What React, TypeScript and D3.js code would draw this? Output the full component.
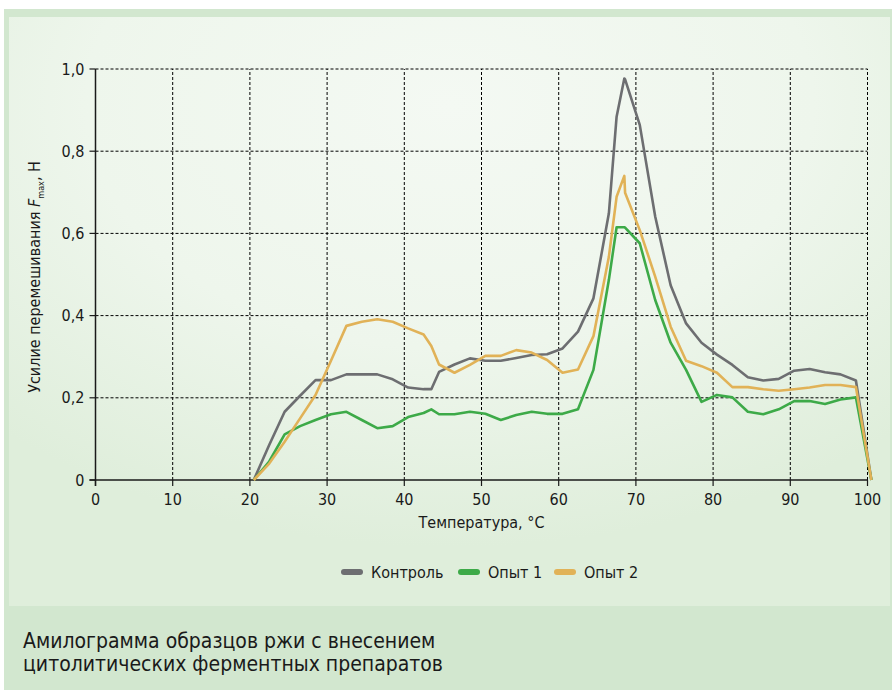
import React from "react";
import * as d3 from "d3";

const temps = [20.5, 22.5, 24.5, 26.5, 28.5, 30.5, 32.5, 34.5, 36.5, 38.5, 40.5, 42.5, 43.5, 44.5, 46.5, 48.5, 50.5, 52.5, 54.5, 56.5, 58.5, 60.5, 62.5, 64.5, 66.5, 67.5, 68.5, 68.6, 70.5, 72.5, 74.5, 76.5, 78.5, 80.5, 82.5, 84.5, 86.5, 88.5, 90.5, 92.5, 94.5, 96.5, 98.5, 100.5];

const control = [0, 0.085, 0.166, 0.205, 0.243, 0.243, 0.257, 0.257, 0.257, 0.245, 0.225, 0.221, 0.221, 0.263, 0.281, 0.296, 0.29, 0.29, 0.297, 0.304, 0.306, 0.32, 0.361, 0.442, 0.649, 0.884, 0.977, 0.975, 0.864, 0.641, 0.474, 0.381, 0.334, 0.305, 0.28, 0.25, 0.242, 0.246, 0.266, 0.27, 0.262, 0.257, 0.242, 0];

const trial1 = [0, 0.045, 0.111, 0.131, 0.146, 0.16, 0.166, 0.146, 0.126, 0.131, 0.153, 0.163, 0.172, 0.16, 0.16, 0.166, 0.161, 0.146, 0.158, 0.166, 0.161, 0.161, 0.172, 0.268, 0.487, 0.615, 0.615, 0.614, 0.576, 0.438, 0.334, 0.268, 0.19, 0.207, 0.201, 0.166, 0.16, 0.172, 0.192, 0.192, 0.185, 0.196, 0.201, 0];

const trial2 = [0, 0.04, 0.093, 0.15, 0.207, 0.29, 0.375, 0.385, 0.391, 0.385, 0.369, 0.354, 0.326, 0.281, 0.261, 0.28, 0.302, 0.302, 0.316, 0.31, 0.292, 0.261, 0.269, 0.35, 0.543, 0.689, 0.74, 0.699, 0.608, 0.495, 0.373, 0.29, 0.277, 0.261, 0.226, 0.226, 0.221, 0.217, 0.221, 0.225, 0.231, 0.231, 0.226, 0];

const seriesNames = ["Контроль", "Опыт 1", "Опыт 2"];
const seriesColors = ["#6d6e71", "#3daa48", "#e1b257"];
const xTicks = [0, 10, 20, 30, 40, 50, 60, 70, 80, 90, 100];
const yTicks = [0, 0.2, 0.4, 0.6, 0.8, 1.0];
const xTitle = "Температура, °C";
const captionLines = ["Амилограмма образцов ржи с внесением", "цитолитических ферментных препаратов"];

const FONT = "'DejaVu Sans Condensed', 'DejaVu Sans', sans-serif";

export default function App() {
  const W = 892, H = 690;
  const x = d3.scaleLinear().domain([0, 100]).range([95.5, 867.5]);
  const y = d3.scaleLinear().domain([0, 1]).range([480, 69]);
  const line = d3.line<[number, number]>().x(d => x(d[0])).y(d => y(d[1]));
  const allSeries = [control, trial1, trial2];
  const fmt = (v: number) => (v === 0 ? "0" : v.toFixed(1).replace(".", ","));

  return (
    <svg width={W} height={H} style={{ position: "absolute", left: 0, top: 0 }}>
      <defs>
        <radialGradient id="bg" cx="0.5" cy="0.15" r="0.75" gradientUnits="objectBoundingBox">
          <stop offset="0" stopColor="#f4f9f3" />
          <stop offset="0.55" stopColor="#eef6ec" />
          <stop offset="1" stopColor="#dfeedb" />
        </radialGradient>
      </defs>
      <rect x={0} y={0} width={W} height={H} fill="#ffffff" />
      <rect x={4} y={9} width={W - 4} height={H - 9} fill="#d2e7cf" />
      <rect x={9} y={17} width={881} height={589} fill="url(#bg)" />

      {/* grid */}
      {xTicks.filter(t => t > 0).map(t => (
        <line key={"gx" + t} x1={x(t)} x2={x(t)} y1={y(0)} y2={y(1)} stroke="#000" strokeWidth={1} strokeDasharray="3,2" />
      ))}
      {yTicks.filter(t => t > 0).map(t => (
        <line key={"gy" + t} x1={x(0)} x2={x(100)} y1={y(t)} y2={y(t)} stroke="#000" strokeWidth={1} strokeDasharray="3,2" />
      ))}

      {/* axes */}
      <line x1={x(0)} x2={x(0)} y1={y(0) + 6} y2={y(1)} stroke="#1a1a1a" strokeWidth={1.5} />
      <line x1={x(0) - 6} x2={x(100)} y1={y(0)} y2={y(0)} stroke="#1a1a1a" strokeWidth={1.5} />
      {yTicks.map(t => (
        <g key={"yt" + t}>
          <line x1={x(0) - 6} x2={x(0)} y1={y(t)} y2={y(t)} stroke="#1a1a1a" strokeWidth={1.2} />
          <text x={x(0) - 11} y={y(t)} dy="0.35em" textAnchor="end" fontFamily={FONT} fontSize={16} fill="#1a1a1a">{fmt(t)}</text>
        </g>
      ))}
      {xTicks.map(t => (
        <g key={"xt" + t}>
          <line x1={x(t)} x2={x(t)} y1={y(0)} y2={y(0) + 6} stroke="#1a1a1a" strokeWidth={1.2} />
          <text x={x(t)} y={y(0) + 25} textAnchor="middle" fontFamily={FONT} fontSize={16} fill="#1a1a1a">{t}</text>
        </g>
      ))}

      {/* series */}
      {allSeries.map((vals, i) => (
        <path key={"s" + i} d={line(temps.map((t, j) => [t, vals[j]]) as [number, number][]) || ""} fill="none" stroke={seriesColors[i]} strokeWidth={2.6} strokeLinejoin="round" />
      ))}

      {/* axis titles */}
      <text x={(x(0) + x(100)) / 2} y={528} textAnchor="middle" fontFamily={FONT} fontSize={16} fill="#1a1a1a">{xTitle}</text>
      <text transform={`translate(40, ${277}) rotate(-90)`} textAnchor="middle" fontFamily={FONT} fontSize={16} fill="#1a1a1a">
        Усилие перемешивания <tspan fontStyle="italic">F</tspan><tspan fontSize={9} dy={4}>max</tspan><tspan dy={-4}>, Н</tspan>
      </text>

      {/* legend */}
      {seriesNames.map((n, i) => {
        const lx = [341, 458, 554][i];
        return (
          <g key={"lg" + i}>
            <line x1={lx + 3} x2={lx + 19} y1={572} y2={572} stroke={seriesColors[i]} strokeWidth={6} strokeLinecap="round" />
            <text x={lx + 30} y={572} dy="0.35em" fontFamily={FONT} fontSize={16} fill="#1a1a1a">{n}</text>
          </g>
        );
      })}

      {/* caption */}
      {captionLines.map((c, i) => (
        <text key={"c" + i} x={23} y={648 + i * 23} fontFamily={FONT} fontSize={21} fill="#1a1a1a">{c}</text>
      ))}
    </svg>
  );
}
